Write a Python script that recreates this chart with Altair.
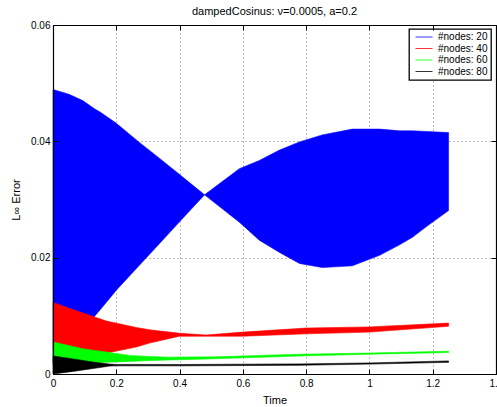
import altair as alt
import pandas as pd

TITLE = "dampedCosinus: \u03bd=0.0005, a=0.2"
FONT = "Liberation Sans"

series_names = ["#nodes: 20", "#nodes: 40", "#nodes: 60", "#nodes: 80"]
series_colors = ["#0000ff", "#ff0000", "#00ff00", "#000000"]

x_ticks = [0, 0.2, 0.4, 0.6, 0.8, 1.0, 1.2, 1.4]
y_ticks = [0, 0.02, 0.04, 0.06]

# Lower / upper envelope over time of each rapidly oscillating error trace
t_20 = [0.0, 0.05, 0.094, 0.131, 0.15, 0.2, 0.273, 0.336, 0.402, 0.479, 0.589, 0.652,
        0.716, 0.779, 0.851, 0.946, 1.032, 1.095, 1.136, 1.179, 1.25]
lo_20 = [0.0017, 0.0046, 0.0075, 0.0099, 0.0111, 0.0144, 0.0187, 0.0224, 0.0263, 0.0308,
         0.0261, 0.0230, 0.0209, 0.0190, 0.0183, 0.0186, 0.0204, 0.0222, 0.0235, 0.0253,
         0.0281]
hi_20 = [0.0489, 0.0481, 0.0470, 0.0456, 0.0450, 0.0431, 0.0398, 0.0371, 0.0342, 0.0308,
         0.0353, 0.0367, 0.0385, 0.0399, 0.0411, 0.0421, 0.0421, 0.0418, 0.0418, 0.0417,
         0.0415]

t_40 = [0.0, 0.094, 0.169, 0.263, 0.305, 0.4, 0.484, 0.6, 0.8, 1.0, 1.25]
lo_40 = [0.0040, 0.0038, 0.00359, 0.00463, 0.00531, 0.0065, 0.0065, 0.0065, 0.0069, 0.0072, 0.0082]
hi_40 = [0.0123, 0.0105, 0.0091, 0.0080, 0.0076, 0.0070, 0.0067, 0.0072, 0.0079, 0.0081, 0.00875]

t_60 = [0.0, 0.094, 0.126, 0.168, 0.242, 0.305, 0.368, 0.515, 0.779, 1.0, 1.25]
lo_60 = [0.0020, 0.0019, 0.00187, 0.0020, 0.00217, 0.0023, 0.0024, 0.00263, 0.0031, 0.0034, 0.00368]
hi_60 = [0.0055, 0.00435, 0.0041, 0.00377, 0.0032, 0.0030, 0.0029, 0.00295, 0.0034, 0.0036, 0.00392]

t_80 = [0.0, 0.063, 0.126, 0.179, 0.2, 0.4, 0.78, 1.0, 1.25]
lo_80 = [0.0, 0.00045, 0.00093, 0.00136, 0.0014, 0.0014, 0.0015, 0.0017, 0.0020]
hi_80 = [0.0031, 0.0026, 0.00205, 0.0017, 0.00165, 0.00163, 0.00174, 0.0019, 0.00225]


def band(name, t, lo, hi):
    return pd.DataFrame({"t": t, "lo": lo, "hi": hi, "series": name})


W, H = 443, 349

xs = alt.Scale(domain=[0, 1.4], nice=False, zero=False)
ys = alt.Scale(domain=[0, 0.06], nice=False, zero=False)
cs = alt.Scale(domain=series_names, range=series_colors)

legend = alt.Legend(
    title=None, orient="none", legendX=356, legendY=4,
    strokeColor="black", fillColor="white", padding=3,
    symbolType="stroke", symbolSize=289, symbolStrokeWidth=0.8, symbolOffset=3,
    labelOffset=5, labelFont=FONT, labelFontSize=10, labelColor="black",
    clipHeight=10, rowPadding=1.5,
)

label_style = dict(labelFont=FONT, labelFontSize=10, labelColor="black",
                   labelFlush=False, labelOverlap=False)
title_style = dict(titleFont=FONT, titleFontSize=11, titleFontWeight="normal",
                   titleColor="black")
grid_style = dict(grid=True, gridDash=[1, 3], gridColor="#777777", gridWidth=1)
tick_style = dict(labels=False, title=None, grid=False, ticks=True, tickSize=5,
                  tickColor="black", tickWidth=1, domain=True, domainColor="black",
                  domainWidth=1.2, zindex=1)

# labels + grid
ax_x_main = alt.Axis(values=x_ticks, format="~f", title="Time", ticks=False, tickSize=0,
                     domain=False, labelPadding=4, titlePadding=6, zindex=0,
                     **label_style, **title_style, **grid_style)
ax_y_main = alt.Axis(values=y_ticks, format="~f", title="L\u221e Error", ticks=False,
                     tickSize=0, domain=False, labelPadding=3, titlePadding=9, zindex=0,
                     **label_style, **title_style, **grid_style)
# inward ticks and frame: bottom / left
ax_x_low = alt.Axis(orient="top", offset=-H, values=x_ticks, **tick_style)
ax_y_low = alt.Axis(orient="right", offset=-W, values=y_ticks, **tick_style)
# inward ticks and frame: top / right
ax_x_high = alt.Axis(orient="bottom", offset=-H, values=x_ticks, **tick_style)
ax_y_high = alt.Axis(orient="left", offset=-W, values=y_ticks, **tick_style)


def layer(df, x_axis, y_axis):
    return alt.Chart(df).mark_area(strokeWidth=0.6, interpolate="linear").encode(
        x=alt.X("t:Q", scale=xs, axis=x_axis),
        y=alt.Y("lo:Q", scale=ys, axis=y_axis),
        y2="hi:Q",
        fill=alt.Fill("series:N", scale=cs, legend=legend),
        stroke=alt.Stroke("series:N", scale=cs, legend=legend),
    )


chart = alt.layer(
    layer(band(series_names[0], t_20, lo_20, hi_20), ax_x_main, ax_y_main),
    layer(band(series_names[1], t_40, lo_40, hi_40), ax_x_low, ax_y_low),
    layer(band(series_names[2], t_60, lo_60, hi_60), ax_x_high, ax_y_high),
    layer(band(series_names[3], t_80, lo_80, hi_80), None, None),
).resolve_axis(
    x="independent", y="independent"
).properties(
    width=W, height=H,
    title=alt.TitleParams(TITLE, font=FONT, fontSize=11, fontWeight="normal",
                          color="black", frame="group", offset=3),
    padding={"left": 53, "top": 25, "right": 1, "bottom": 33},
    autosize=alt.AutoSizeParams(type="none"),
    background="white",
).configure_view(stroke=None).configure_legend(strokeWidth=1.3)

chart.save("out.html", embed_options={"renderer": "svg", "actions": False})
